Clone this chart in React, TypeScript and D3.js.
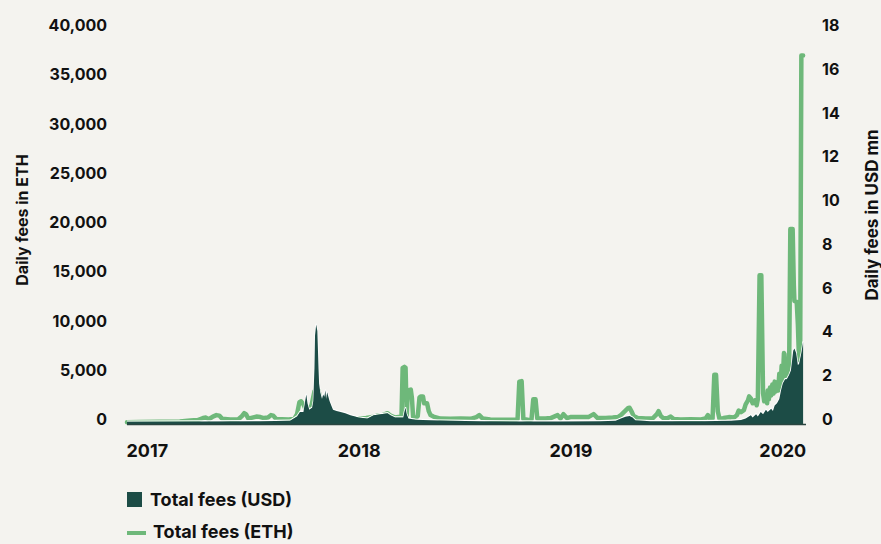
import React from "react";
import * as d3 from "d3";

// Day offsets from 2016-11-27
const ethDay = [0,22,57,91,109,122,131,136,141,148,154,159,164,178,192,198,202,205,209,216,223,230,236,243,248,252,257,267,278,288,293,297,300,304,307,312,318,323,326,330,333,338,343,349,357,364,371,385,399,412,423,431,440,449,454,462,471,473,475,478,480,482,484,489,491,493,498,501,504,506,510,512,517,520,523,528,540,557,575,592,602,607,613,626,644,661,671,673,676,680,683,692,697,700,704,707,721,730,742,747,752,758,764,782,795,804,811,825,837,846,851,858,863,866,870,873,880,894,906,913,916,920,925,932,937,942,954,971,989,997,1001,1004,1009,1012,1015,1018,1021,1028,1037,1046,1051,1054,1058,1063,1066,1070,1072,1075,1078,1082,1085,1087,1090,1093,1096,1098,1101,1103,1104,1106,1108,1110,1112,1114,1116,1118,1120,1122,1124,1126,1128,1130,1132,1133,1135,1136,1138,1139,1141,1143,1147,1149,1150,1154,1156,1158,1160,1162,1165];
const ethValue = [80,100,120,150,250,300,500,550,380,650,800,750,420,350,380,700,1000,900,450,550,650,600,500,550,800,750,400,380,350,400,900,2100,2200,1900,1500,1350,1800,3200,3500,3300,2400,1500,1100,900,850,750,550,450,450,500,600,750,800,1000,750,550,650,650,5600,5700,5600,700,3300,3400,2500,600,500,700,2600,2700,2700,2000,2000,1200,800,650,450,420,450,420,600,800,450,350,320,330,350,400,4200,4250,400,300,350,2400,2400,450,450,500,800,450,900,500,600,600,600,900,500,500,550,600,800,1200,1500,1550,1100,700,500,450,480,900,1200,700,450,500,650,400,350,380,350,450,800,450,450,4900,4900,1200,400,500,600,550,800,1250,1100,1300,1900,2300,2700,2500,2000,2300,1800,2400,15000,15000,3000,2200,2900,2000,3300,2400,3600,2800,3900,3000,4200,3200,4000,3300,5000,3600,5800,4200,7100,7000,5000,5600,4500,5400,6000,19700,19700,14000,12400,12300,10000,6400,7500,37300,37300];

const usdDay = [0,126,230,281,293,298,304,307,309,311,314,319,321,323,324,326,328,330,331,333,335,336,338,340,342,343,345,347,349,352,355,361,368,376,385,399,414,425,437,449,454,462,476,478,480,482,485,497,523,557,609,678,747,816,842,851,859,866,871,876,902,989,1041,1058,1066,1075,1078,1084,1087,1092,1096,1101,1104,1110,1113,1116,1120,1124,1127,1130,1134,1137,1141,1144,1148,1150,1153,1156,1158,1162,1165];
const usdValue = [0.06,0.07,0.08,0.1,0.3,0.5,0.5,1.0,1.3,0.9,0.6,0.7,1.0,2.5,4.0,4.5,4.2,2.5,1.8,1.4,1.2,1.1,1.3,1.2,1.5,1.1,1.4,1.2,1.0,0.8,0.6,0.55,0.5,0.45,0.35,0.25,0.2,0.35,0.4,0.45,0.35,0.25,0.25,0.5,0.7,0.4,0.2,0.15,0.12,0.1,0.08,0.07,0.07,0.08,0.1,0.2,0.28,0.32,0.25,0.12,0.08,0.08,0.1,0.14,0.2,0.35,0.25,0.4,0.3,0.5,0.4,0.6,0.5,0.65,0.55,0.8,0.9,1.1,1.5,1.8,2.0,2.0,2.2,2.4,3.3,3.4,3.2,2.65,2.7,3.2,3.7];

const leftTicks = [0,5000,10000,15000,20000,25000,30000,35000,40000];
const rightTicks = [0,2,4,6,8,10,12,14,16,18];
const yearTicks = ["2017","2018","2019","2020"];

const START = new Date(2016, 10, 27);
const BG = "#f4f3ef";
const DARK = "#1c4c46";
const LIGHT = "#6eb87a";
const FONT = "Inter, 'DejaVu Sans', sans-serif";

export default function App() {
  const x = d3.scaleTime()
    .domain([START, d3.timeDay.offset(START, 1170)])
    .range([127, 806]);
  const yL = d3.scaleLinear().domain([0, 40000]).range([423, 29]);
  const yR = d3.scaleLinear().domain([0, 18]).range([423, 29]);

  const eth = ethDay.map((d, i) => ({ date: d3.timeDay.offset(START, d), v: ethValue[i] }));
  const usd = usdDay.map((d, i) => ({ date: d3.timeDay.offset(START, d), v: usdValue[i] }));

  const ethLine = d3.line<any>().x(d => x(d.date)).y(d => yL(d.v));
  const usdArea = d3.area<any>().x(d => x(d.date)).y0(yR(0) + 1.5).y1(d => yR(d.v));
  const usdTop = d3.line<any>().x(d => x(d.date)).y(d => yR(d.v) - 0.6);

  const fmt = d3.format(",");

  return (
    <svg width={881} height={544} style={{ position: "absolute", left: 0, top: 0 }} fontFamily={FONT}>
      <rect x={0} y={0} width={881} height={544} fill={BG} />
      <path d={ethLine(eth) || ""} fill="none" stroke={LIGHT} strokeWidth={4.5} strokeLinejoin="round" strokeLinecap="round" />
      <path d={usdTop(usd) || ""} fill="none" stroke="#ffffff" strokeWidth={1.2} />
      <path d={usdArea(usd) || ""} fill={DARK} />
      <line x1={127} x2={806} y1={424.5} y2={424.5} stroke="#2a4540" strokeWidth={1.5} />

      {leftTicks.map(t => (
        <text key={"l" + t} x={107} y={yL(t) - 4} textAnchor="end" dominantBaseline="central" fontSize={16} fontWeight={700} fill="#111">{fmt(t)}</text>
      ))}
      {rightTicks.map(t => (
        <text key={"r" + t} x={822} y={yR(t) - 4} textAnchor="start" dominantBaseline="central" fontSize={16} fontWeight={700} fill="#111">{t}</text>
      ))}
      {yearTicks.map(t => (
        <text key={"x" + t} x={x(new Date(+t, 0, 1))} y={457} textAnchor="middle" fontSize={18} fontWeight={700} fill="#111">{t}</text>
      ))}

      <text transform="translate(28,220) rotate(-90)" textAnchor="middle" fontSize={16} fontWeight={700} fill="#111">Daily fees in ETH</text>
      <text transform="translate(878,215) rotate(-90)" textAnchor="middle" fontSize={17} fontWeight={700} fill="#111">Daily fees in USD mn</text>

      <rect x={127} y={492} width={15} height={15} fill={DARK} />
      <text x={150} y={506} fontSize={18} fontWeight={700} fill="#111">Total fees (USD)</text>
      <line x1={127} x2={146} y1={533} y2={533} stroke={LIGHT} strokeWidth={4} />
      <text x={153} y={538} fontSize={18} fontWeight={700} fill="#111">Total fees (ETH)</text>
    </svg>
  );
}
